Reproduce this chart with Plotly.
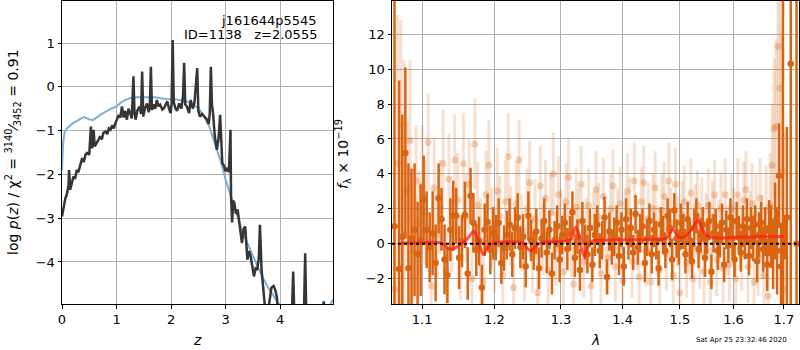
import plotly.graph_objects as go

# ---------------- left panel: redshift PDF ----------------
z_black = [0.00, 0.03, 0.06, 0.09, 0.12, 0.13, 0.15, 0.18, 0.21, 0.24,
           0.27, 0.30, 0.33, 0.37, 0.40, 0.43, 0.46, 0.50, 0.53, 0.55,
           0.57, 0.58, 0.60, 0.62, 0.65, 0.68, 0.70, 0.73, 0.76, 0.80,
           0.83, 0.86, 0.89, 0.92, 0.95, 0.98, 1.01, 1.04, 1.07, 1.10,
           1.13, 1.16, 1.19, 1.22, 1.25, 1.28, 1.31, 1.33, 1.35, 1.38,
           1.42, 1.45, 1.47, 1.49, 1.52, 1.56, 1.59, 1.61, 1.63, 1.65,
           1.68, 1.71, 1.74, 1.77, 1.80, 1.84, 1.87, 1.90, 1.93, 1.96,
           1.99, 2.01, 2.03, 2.05, 2.08, 2.11, 2.15, 2.19, 2.22, 2.24,
           2.26, 2.29, 2.33, 2.36, 2.40, 2.43, 2.46, 2.48, 2.50, 2.53,
           2.57, 2.62, 2.66, 2.69, 2.71, 2.73, 2.75, 2.77, 2.80, 2.84,
           2.87, 2.90, 2.92, 2.94, 2.97, 3.00, 3.03, 3.06, 3.09, 3.10,
           3.12, 3.14, 3.16, 3.19, 3.22, 3.25, 3.28, 3.30, 3.33, 3.36,
           3.40, 3.43, 3.46, 3.49, 3.52, 3.55, 3.58, 3.61, 3.63, 3.66,
           3.69, 3.72, 3.76, 3.80, 3.84, 3.88, 3.91, 3.94, 3.97, 4.05,
           4.15, 4.20, 4.22, 4.24, 4.26, 4.30, 4.40, 4.44, 4.46, 4.48,
           4.55, 4.63, 4.70, 4.78, 4.80, 4.82, 4.86, 4.92, 4.97]
logp_black = [-2.96, -2.75, -2.55, -2.45, -2.25, -1.90, -2.35, -2.20, -2.05, -2.10,
              -1.90, -1.95, -1.80, -1.63, -1.72, -1.55, -1.51, -1.55, -0.91, -1.40,
              -1.30, -0.98, -1.36, -1.30, -1.25, -1.18, -1.13, -1.20, -1.05, -1.02,
              -1.08, -0.95, -0.98, -0.88, -0.95, -0.83, -0.72, -0.64, -0.70, -0.45,
              -0.70, -0.55, -0.75, -0.50, -0.60, -0.72, 0.24, -0.60, -0.75, -0.55,
              -0.45, -0.62, 0.35, -0.68, -0.50, -0.38, -0.58, -0.45, 0.46, -0.53,
              -0.40, -0.50, -0.30, -0.45, -0.41, -0.52, -0.49, -0.40, -0.33, -0.48,
              -0.60, -0.40, 1.07, -0.35, -0.49, -0.55, -0.38, -0.50, -0.20, 0.55,
              -0.40, -0.45, -0.60, -0.30, -0.50, -0.35, 0.20, 0.43, -0.55, -0.68,
              -0.62, -0.70, -0.75, -0.85, -0.60, 0.46, -0.40, -0.60, -1.10, -1.44,
              -1.20, -0.64, -1.30, -1.74, -1.80, -1.93, -1.85, -1.95, -0.98, -2.50,
              -3.10, -2.60, -2.65, -2.90, -2.80, -3.10, -3.30, -3.57, -3.25, -3.19,
              -3.95, -3.75, -3.87, -4.10, -4.33, -4.15, -4.18, -3.90, -3.15, -4.18,
              -4.70, -5.00, -5.30, -4.90, -4.59, -4.55, -4.63, -4.80, -5.30, -5.80,
              -5.60, -5.40, -5.00, -4.22, -5.20, -5.60, -5.50, -5.00, -3.80, -5.20,
              -5.60, -5.20, -5.50, -5.20, -4.90, -5.20, -5.60, -5.40, -5.10]

z_model = [0.00, 0.02, 0.05, 0.10, 0.20, 0.30, 0.40, 0.50, 0.57, 0.70,
           0.80, 0.90, 1.00, 1.10, 1.20, 1.30, 1.50, 1.70, 1.90, 2.10,
           2.30, 2.50, 2.60, 2.70, 2.80, 2.90, 3.00, 3.10, 3.20, 3.30,
           3.40, 3.50, 3.60, 3.70, 3.80, 3.90, 4.00, 4.20, 4.50, 4.80, 4.97]
logp_model = [-1.90, -1.30, -1.02, -0.94, -0.83, -0.75, -0.69, -0.74, -0.76, -0.64,
              -0.57, -0.50, -0.45, -0.34, -0.28, -0.24, -0.24, -0.24, -0.28, -0.29,
              -0.34, -0.48, -0.67, -0.90, -1.29, -1.65, -2.12, -2.50, -2.88, -3.27,
              -3.57, -3.87, -4.14, -4.40, -4.63, -4.81, -5.00, -5.30, -5.50, -5.30, -4.85]

left_xticks = [0, 1, 2, 3, 4]
left_yticks = [-4, -3, -2, -1, 0, 1]

# ---------------- right panel: spectrum ----------------
light_wave = [1.064, 1.068, 1.072, 1.076, 1.080, 1.084, 1.088, 1.092, 1.096, 1.100,
              1.104, 1.108, 1.112, 1.116, 1.120, 1.124, 1.128, 1.132, 1.136, 1.140,
              1.144, 1.148, 1.152, 1.156, 1.160, 1.164, 1.168, 1.172, 1.176, 1.180,
              1.184, 1.188, 1.192, 1.196, 1.200, 1.204, 1.208, 1.212, 1.216, 1.220,
              1.224, 1.228, 1.232, 1.236, 1.240, 1.244, 1.248, 1.252, 1.256, 1.260,
              1.264, 1.268, 1.272, 1.276, 1.280, 1.284, 1.288, 1.292, 1.296, 1.300,
              1.304, 1.308, 1.312, 1.316, 1.320, 1.324, 1.328, 1.332, 1.336, 1.340,
              1.344, 1.348, 1.352, 1.356, 1.360, 1.364, 1.368, 1.372, 1.376, 1.380,
              1.384, 1.388, 1.392, 1.396, 1.400, 1.404, 1.408, 1.412, 1.416, 1.420,
              1.424, 1.428, 1.432, 1.436, 1.440, 1.444, 1.448, 1.452, 1.456, 1.460,
              1.464, 1.468, 1.472, 1.476, 1.480, 1.484, 1.488, 1.492, 1.496, 1.500,
              1.504, 1.508, 1.512, 1.516, 1.520, 1.524, 1.528, 1.532, 1.536, 1.540,
              1.544, 1.548, 1.552, 1.556, 1.560, 1.564, 1.568, 1.572, 1.576, 1.580,
              1.584, 1.588, 1.592, 1.596, 1.600, 1.604, 1.608, 1.612, 1.616, 1.620,
              1.624, 1.628, 1.632, 1.636, 1.640, 1.644, 1.648, 1.652, 1.656, 1.660,
              1.664, 1.668, 1.672, 1.676, 1.680, 1.684, 1.688, 1.692, 1.696, 1.700]
light_flux = [-2.6, 4.6, 6.8, 0.5, 3.0, 5.9, -0.5, 3.6, 1.2, 3.3,
              1.8, 5.8, -2.4, 3.2, 0.5, 2.1, 4.6, -1.5, 3.7, 0.8,
              4.8, 2.5, -0.8, 4.6, 1.5, 3.4, -2.0, 5.7, 2.2, 0.2,
              -2.2, 2.8, 4.5, 0.9, -0.4, 3.0, 1.6, -1.8, 2.4, 5.0,
              1.0, -2.5, 2.3, 4.8, 0.6, -1.2, 2.0, 3.5, -0.6, 1.4,
              -2.8, 3.3, 0.3, 2.6, -1.5, 1.8, 4.0, -0.3, 2.8, 1.0,
              -1.6, 2.4, 3.8, 0.1, -2.3, 2.1, 1.2, 3.4, -1.0, 0.6,
              2.2, -2.4, 0.9, 3.1, 1.5, -1.7, 2.7, 0.4, -0.8, 2.0,
              3.3, -1.3, 1.2, 2.3, -2.1, 0.8, 3.0, 1.8, -1.0, 3.6,
              0.5, -1.9, 2.4, 3.5, -0.4, 1.4, -2.2, 2.0, 3.2, 0.2,
              -1.5, 1.9, 2.7, -0.6, 3.6, 1.2, -1.8, 3.4, 0.7, -2.8,
              1.6, 2.4, -1.1, 0.4, 2.9, -2.0, 1.3, 2.2, -0.5, 1.8,
              -1.6, 0.9, 2.2, -2.2, 1.5, 2.8, -0.9, 0.5, 2.0, -1.4,
              2.8, 0.2, -1.2, 2.0, 1.0, -2.0, 2.8, 0.6, -0.6, 2.5,
              3.1, -1.3, 0.8, 2.3, -2.2, 1.7, -0.8, 2.6, 0.4, -1.8,
              1.9, -3.0, 2.2, 4.5, 6.6, 6.7, 11.3, 8.9, 4.2, -2.6]
light_err = [5.0, 8.5, 6.0, 10.0, 4.0, 4.6, 3.5, 3.2, 3.0, 3.5,
             3.0, 2.8, 2.6, 2.9, 2.5, 2.7, 3.1, 2.4, 2.6, 2.5,
             2.6, 2.7, 2.4, 2.9, 2.5, 2.6, 2.4, 2.6, 2.5, 2.4,
             2.4, 2.5, 2.6, 2.3, 2.4, 2.5, 2.3, 2.2, 2.4, 2.5,
             2.3, 2.2, 2.4, 2.3, 2.2, 2.1, 2.3, 2.4, 2.2, 2.3,
             2.2, 2.3, 2.1, 2.2, 2.1, 2.2, 2.4, 2.1, 2.2, 2.1,
             2.1, 2.2, 2.3, 2.0, 2.1, 2.2, 2.0, 2.2, 2.1, 2.0,
             2.1, 2.0, 2.1, 2.2, 2.0, 2.1, 2.2, 2.0, 2.1, 2.0,
             2.1, 2.0, 2.0, 2.1, 2.0, 2.1, 2.2, 2.0, 2.1, 2.2,
             2.0, 2.1, 2.0, 2.1, 2.0, 2.1, 2.0, 2.0, 2.1, 2.0,
             2.0, 2.1, 2.0, 2.1, 2.2, 2.0, 2.1, 2.1, 2.0, 2.1,
             2.0, 2.1, 2.0, 2.1, 2.0, 2.0, 2.1, 2.0, 2.1, 2.0,
             2.1, 2.0, 2.1, 2.0, 2.1, 2.0, 2.1, 2.0, 2.1, 2.0,
             2.1, 2.0, 2.1, 2.0, 2.2, 2.0, 2.1, 2.0, 2.1, 2.2,
             2.2, 2.1, 2.2, 2.3, 2.2, 2.3, 2.2, 2.3, 2.4, 2.5,
             2.6, 2.7, 3.0, 3.5, 4.0, 5.0, 4.5, 5.0, 8.0, 9.0]

dark_wave = [1.064, 1.070, 1.074, 1.078, 1.082, 1.086, 1.090, 1.094, 1.098, 1.102,
             1.106, 1.110, 1.114, 1.118, 1.122, 1.126, 1.130, 1.134, 1.138, 1.142,
             1.146, 1.150, 1.154, 1.158, 1.162, 1.166, 1.170, 1.174, 1.178, 1.182,
             1.186, 1.190, 1.194, 1.198, 1.202, 1.206, 1.210, 1.214, 1.218, 1.222,
             1.226, 1.230, 1.234, 1.238, 1.242, 1.246, 1.250, 1.254, 1.258, 1.262,
             1.266, 1.270, 1.274, 1.278, 1.282, 1.286, 1.290, 1.294, 1.298, 1.302,
             1.306, 1.310, 1.314, 1.318, 1.322, 1.326, 1.330, 1.334, 1.338, 1.342,
             1.346, 1.350, 1.354, 1.358, 1.362, 1.366, 1.370, 1.374, 1.378, 1.382,
             1.386, 1.390, 1.394, 1.398, 1.402, 1.406, 1.410, 1.414, 1.418, 1.422,
             1.426, 1.430, 1.434, 1.438, 1.442, 1.446, 1.450, 1.454, 1.458, 1.462,
             1.466, 1.470, 1.474, 1.478, 1.482, 1.486, 1.490, 1.494, 1.498, 1.502,
             1.506, 1.510, 1.514, 1.518, 1.522, 1.526, 1.530, 1.534, 1.538, 1.542,
             1.546, 1.550, 1.554, 1.558, 1.562, 1.566, 1.570, 1.574, 1.578, 1.582,
             1.586, 1.590, 1.594, 1.598, 1.602, 1.606, 1.610, 1.614, 1.618, 1.622,
             1.626, 1.630, 1.634, 1.638, 1.642, 1.646, 1.650, 1.654, 1.658, 1.662,
             1.666, 1.670, 1.674, 1.678, 1.682, 1.686, 1.690, 1.694, 1.698, 1.702,
             1.706, 1.714, 1.726]
dark_flux = [1.0, -1.45, 0.4, 5.2, -1.4, 0.3, 0.8, -0.6, 0.2, 2.55,
             0.8, -0.2, 0.6, -1.1, 2.6, 1.4, -0.9, -1.8, 0.8, 1.6,
             1.6, -0.8, 0.15, 1.65, -1.7, 2.75, 1.2, -0.35, 0.15, -2.5,
             0.8, 1.25, -0.35, 0.6, 0.35, 1.2, -1.1, -0.25, 0.5, 1.1,
             -0.6, 0.9, 1.5, -0.2, 0.4, -1.3, 1.6, 0.2, -0.4, 0.7,
             -1.4, 0.3, 1.3, -0.5, 0.8, -1.7, 0.2, 1.0, -0.9, 0.5,
             1.2, -0.3, 0.6, 1.8, -0.8, 0.4, -1.5, 1.3, 0.1, -0.6,
             0.9, -1.2, 0.5, 1.1, -0.4, 0.2, 1.5, -1.9, 0.7, -0.2,
             0.4, 1.2, -0.7, 0.8, -1.3, 1.4, 0.1, 0.9, -0.5, 1.7,
             -0.2, 0.6, 1.0, -1.1, 0.3, 1.3, -0.6, 0.8, 0.2, -1.4,
             1.1, 0.5, -0.4, 1.6, 0.9, -0.9, 1.9, 0.3, -0.2, 1.2,
             0.7, -0.6, 1.4, 0.2, -1.0, 0.9, 1.6, -0.3, 0.5, 1.1,
             -0.8, 0.4, 1.3, -1.6, 0.6, 1.0, -0.4, 0.2, 1.2, -1.2,
             0.8, -0.1, 1.5, 0.3, -0.9, 1.3, 0.6, -0.5, 1.0, 0.1,
             1.4, -0.7, 0.9, 0.3, 1.1, -1.0, 0.5, 1.2, -0.3, 0.7,
             -1.2, 0.9, 0.4, -0.6, 1.3, -0.4, 3.9, -1.3, 1.0, 0.3,
             1.5, 10.3, 0.0]
dark_err = [30.0, 10.8, 7.0, 4.9, 6.0, 4.0, 3.8, 3.0, 3.2, 2.5,
            2.2, 2.0, 2.4, 2.2, 2.0, 1.8, 2.0, 1.6, 1.8, 2.0,
            1.6, 1.8, 1.5, 1.9, 1.5, 1.6, 1.7, 1.5, 1.4, 1.3,
            1.5, 1.6, 1.4, 1.5, 1.3, 1.4, 1.2, 1.3, 1.4, 1.5,
            1.3, 1.2, 1.4, 1.2, 1.3, 1.2, 1.4, 1.2, 1.1, 1.3,
            1.2, 1.1, 1.3, 1.2, 1.1, 1.2, 1.1, 1.2, 1.3, 1.1,
            1.1, 1.2, 1.0, 1.2, 1.1, 1.0, 1.2, 1.1, 1.0, 1.1,
            1.1, 1.0, 1.2, 1.1, 1.0, 1.1, 1.2, 1.0, 1.1, 1.0,
            1.1, 1.0, 1.1, 1.0, 1.1, 1.2, 1.0, 1.1, 1.0, 1.1,
            1.0, 1.1, 1.0, 1.1, 1.0, 1.0, 1.1, 1.0, 1.1, 1.0,
            1.0, 1.1, 1.0, 1.0, 1.1, 1.2, 1.0, 1.1, 1.0, 1.1,
            1.0, 1.1, 1.0, 1.1, 1.0, 1.1, 1.0, 1.1, 1.0, 1.0,
            1.1, 1.0, 1.1, 1.0, 1.1, 1.0, 1.1, 1.0, 1.1, 1.0,
            1.1, 1.0, 1.1, 1.2, 1.0, 1.1, 1.0, 1.1, 1.2, 1.0,
            1.2, 1.1, 1.2, 1.3, 1.1, 1.2, 1.3, 1.2, 1.3, 1.4,
            1.5, 1.6, 1.8, 2.0, 2.2, 2.5, 3.0, 2.5, 30.0, 1.2,
            5.2, 30.0, 30.0]

model_wave = [1.072, 1.100, 1.125, 1.132, 1.138, 1.146, 1.155, 1.163, 1.170, 1.176,
              1.184, 1.190, 1.200, 1.230, 1.242, 1.248, 1.254, 1.260, 1.268, 1.290,
              1.310, 1.317, 1.323, 1.328, 1.332, 1.337, 1.342, 1.350, 1.380, 1.450,
              1.475, 1.482, 1.488, 1.494, 1.500, 1.510, 1.520, 1.527, 1.533, 1.540,
              1.548, 1.560, 1.600, 1.650, 1.700]
model_flux = [0.05, 0.05, 0.05, -0.15, -0.33, -0.20, 0.05, 0.35, 0.70, 0.30,
              -0.61, -0.20, 0.05, 0.10, 0.05, -0.25, -0.40, -0.20, 0.05, 0.12,
              0.18, 0.30, 0.94, 0.60, -0.20, -0.71, -0.20, 0.15, 0.20, 0.25,
              0.30, 0.60, 0.82, 0.50, 0.35, 0.45, 0.75, 1.10, 1.36, 0.90,
              0.50, 0.35, 0.37, 0.40, 0.42]

right_xticks = [1.1, 1.2, 1.3, 1.4, 1.5, 1.6, 1.7]
right_yticks = [-2, 0, 2, 4, 6, 8, 10, 12]

OR = (217, 100, 18)
DARK = 'rgb(%d,%d,%d)' % OR
def rgba(a):
    return 'rgba(%d,%d,%d,%s)' % (OR[0], OR[1], OR[2], a)

fig = go.Figure()
fig.add_trace(go.Scatter(x=z_model, y=logp_model, mode='lines',
                         line=dict(color='rgb(125,176,216)', width=2),
                         xaxis='x', yaxis='y', showlegend=False, hoverinfo='skip'))
fig.add_trace(go.Scatter(x=z_black, y=logp_black, mode='lines',
                         line=dict(color='#363636', width=2.5),
                         xaxis='x', yaxis='y', showlegend=False, hoverinfo='skip'))

fig.add_trace(go.Scatter(x=light_wave, y=light_flux, mode='markers',
                         marker=dict(size=7, color=rgba(0.28), line=dict(width=0)),
                         error_y=dict(type='data', array=light_err, visible=True,
                                      color=rgba(0.2), thickness=3, width=0),
                         xaxis='x2', yaxis='y2', showlegend=False, hoverinfo='skip'))
fig.add_trace(go.Scatter(x=dark_wave, y=dark_flux, mode='markers',
                         marker=dict(size=6.5, color=DARK, line=dict(width=0)),
                         error_y=dict(type='data', array=dark_err, visible=True,
                                      color=DARK, thickness=2.5, width=0),
                         xaxis='x2', yaxis='y2', showlegend=False, hoverinfo='skip'))
fig.add_trace(go.Scatter(x=model_wave, y=model_flux, mode='lines',
                         line=dict(color='rgba(255,30,20,0.75)', width=3, shape='spline'),
                         xaxis='x2', yaxis='y2', showlegend=False, hoverinfo='skip'))

fig.add_shape(type='line', xref='x2 domain', x0=0, x1=1, yref='y2', y0=0, y1=0,
              line=dict(color='black', width=2, dash='dot'), layer='above')

axis_common = dict(showgrid=True, gridcolor='#b0b0b0', gridwidth=1, zeroline=False,
                   showline=True, mirror=True, linecolor='black', linewidth=1,
                   ticks='outside', ticklen=3.5, tickwidth=1, tickcolor='black',
                   automargin=False, tickfont=dict(size=13))

def fmt(v):
    s = ('%g' % v)
    return s.replace('-', '\u2212')

ydom = [46 / 350, 349 / 350]
fig.update_layout(
    width=800, height=350,
    margin=dict(l=0, r=0, t=0, b=0),
    paper_bgcolor='white', plot_bgcolor='white',
    font=dict(family='DejaVu Sans', size=13, color='black'),
    xaxis=dict(domain=[62 / 800, 333 / 800], range=[0, 4.97],
               tickvals=left_xticks, ticktext=[fmt(v) for v in left_xticks], **axis_common),
    yaxis=dict(domain=ydom, range=[-4.96, 1.96],
               tickvals=left_yticks, ticktext=[fmt(v) for v in left_yticks], **axis_common),
    xaxis2=dict(domain=[392 / 800, 799 / 800], type='log', range=[0.02564, 0.23832],
                tickvals=right_xticks, ticktext=[fmt(v) for v in right_xticks],
                anchor='y2', **axis_common),
    yaxis2=dict(domain=ydom, range=[-3.45, 13.9], anchor='x2',
                tickvals=right_yticks, ticktext=[fmt(v) for v in right_yticks], **axis_common),
)

def py(p):
    return 1 - p / 350

annos = [
    dict(x=13 / 800, y=py(152), textangle=-90,
         text='log <i>p</i>(<i>z</i>) / χ<sup>2</sup> = <sup>3140</sup>⁄<sub>3452</sub> = 0.91',
         font=dict(size=14)),
    dict(x=343 / 800, y=py(154), textangle=-90,
         text='<i>f</i><sub>λ</sub> × 10<sup>\u221219</sup>', font=dict(size=14)),
    dict(x=197 / 800, y=py(340), text='<i>z</i>', font=dict(size=14)),
    dict(x=595 / 800, y=py(340), text='<i>λ</i>', font=dict(size=14)),
    dict(x=319 / 800, y=py(20), text='j161644p5545', xanchor='right', font=dict(size=13)),
    dict(x=319 / 800, y=py(34), text='ID=1138\u00a0\u00a0\u00a0z=2.0555', xanchor='right',
         font=dict(size=13)),
    dict(x=789 / 800, y=py(340), text='Sat Apr 25 23:32:46 2020', xanchor='right',
         font=dict(size=7)),
]
for a in annos:
    a.setdefault('xanchor', 'center')
    fig.add_annotation(xref='paper', yref='paper', showarrow=False, yanchor='middle', **a)

fig.write_html('out.html', config={'displayModeBar': False},
               post_script="document.body.style.margin='0px';")
